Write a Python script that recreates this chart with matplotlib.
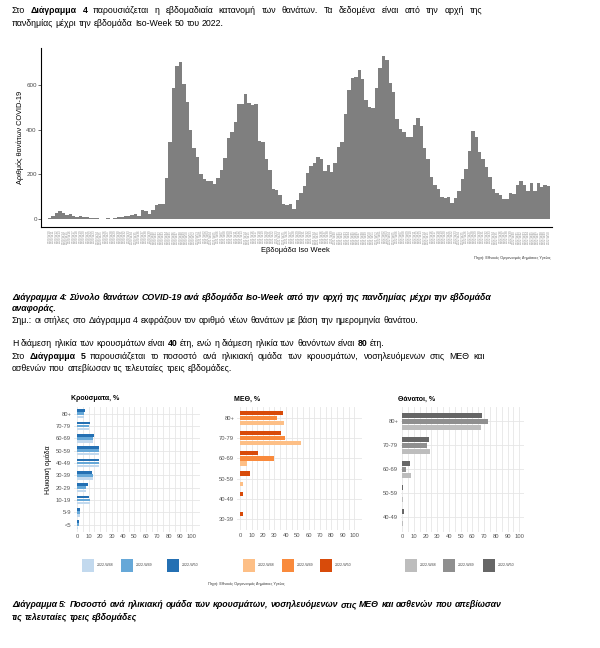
import numpy as np
import matplotlib
matplotlib.use("Agg")
import matplotlib.pyplot as plt
from matplotlib.patches import Rectangle

plt.rcParams['font.family'] = ['Liberation Sans', 'DejaVu Sans']

W, H = 600, 648

# ---- Diagram 4: weekly COVID-19 deaths, 2020-W10 .. 2022-W50 ----
deaths = [3, 12, 27, 35, 25, 18, 22, 14, 7, 11, 8, 7, 4, 3, 5, 1, 1, 3, 1, 5,
          6, 6, 14, 12, 15, 22, 12, 38, 35, 22, 38, 60, 65, 65, 185, 345, 590, 685, 705, 605,
          525, 400, 320, 280, 200, 178, 170, 172, 158, 185, 218, 275, 362, 390, 435, 515, 515, 560, 520, 510,
          515, 348, 345, 268, 218, 135, 128, 105, 65, 62, 68, 45, 85,
          118, 148, 205, 239, 249, 276, 267, 216, 242, 211, 251, 325, 347, 470, 581, 634, 638, 667, 627, 533,
          503, 498, 589, 676, 732, 714, 609, 571, 450, 405, 390, 367, 367, 420, 455, 417, 319, 269, 186, 153,
          133, 100, 95, 100, 69, 95, 125, 181, 223, 303, 394, 367, 299, 269, 231, 186, 133, 118, 107, 91,
          91, 115, 110, 153, 171, 151, 125, 163, 125, 159, 144, 153, 148]
week_labels = ([f"2020-W{w:02d}" for w in range(10, 54)] +
               [f"2021-W{w:02d}" for w in range(1, 53)] +
               [f"2022-W{w:02d}" for w in range(1, 51)])

# ---- Diagram 5: share per age group, last three weeks ----
weeks = ["2022-W48", "2022-W49", "2022-W50"]

case_groups = ["80+", "70-79", "60-69", "50-59", "40-49", "30-39", "20-29", "10-19", "5-9", "<5"]
cases_w48 = [6, 10.5, 14, 19, 19, 13.5, 8, 11, 2.5, 1]
cases_w49 = [5.5, 10, 14, 19, 19, 14, 8, 11, 2.5, 1.2]
cases_w50 = [6.5, 11, 14.5, 18.7, 19, 13, 9, 10, 2, 1.2]

icu_groups = ["80+", "70-79", "60-69", "50-59", "40-49", "30-39"]
icu_w48 = [38.6, 53.2, 5.8, 2.3, 0, 0]
icu_w49 = [32, 39.5, 29.5, 0, 0, 0]
icu_w50 = [37.4, 35.4, 15.8, 8.8, 2, 2]

death_groups = ["80+", "70-79", "60-69", "50-59", "40-49"]
death_w48 = [67.1, 23.5, 7.4, 0.8, 0.6]
death_w49 = [73, 21.2, 3.7, 0, 0]
death_w50 = [68.3, 23, 6.8, 0.8, 1.4]

fig = plt.figure(figsize=(W / 100, H / 100), dpi=100)
renderer = fig.canvas.get_renderer()
TXT = 'Liberation Sans'


def px_axes(x0, y0, x1, y1):
    return fig.add_axes([x0 / W, 1 - y1 / H, (x1 - x0) / W, (y1 - y0) / H])


def width_of(s, size, wt='normal', st='normal'):
    t = fig.text(0, 0, s, fontsize=size, fontweight=wt, fontstyle=st, family=TXT)
    w = t.get_window_extent(renderer=renderer).width
    t.remove()
    return w


def text_line(x, y, runs, size, width=None):
    # words drawn one by one on a common baseline, so bold parts and justified lines line up
    words = []
    for s, weight, style in runs:
        for w in s.split():
            words.append((w, weight, style))
    base = y + 0.36 * size * 100 / 72
    objs = [fig.text(0, 1 - base / H, w, fontsize=size, fontweight=wt, fontstyle=st,
                     family=TXT, va='baseline', ha='left', color='black')
            for w, wt, st in words]
    widths = [t.get_window_extent(renderer=renderer).width for t in objs]
    space = width_of("n n", size) - width_of("nn", size)
    gap = space
    if width is not None and len(objs) > 1:
        gap = max(space, (width - sum(widths)) / (len(objs) - 1))
    cx = x
    for t, w in zip(objs, widths):
        t.set_x(cx / W)
        cx += w + gap


N, B, I = 'normal', 'bold', 'italic'
fs = 6.3

text_line(12, 10, [("Στο", N, N), ("Διάγραμμα 4", B, N),
                   ("παρουσιάζεται η εβδομαδιαία κατανομή των θανάτων.  Τα δεδομένα είναι από την αρχή της", N, N)],
          fs, width=470)
text_line(12, 22.5, [("πανδημίας μέχρι την εβδομάδα Iso-Week 50 του 2022.", N, N)], fs)

# ---- top bar chart ----
ax = px_axes(41, 48, 552, 227)
x = np.arange(len(deaths))
ax.bar(x, deaths, width=1.0, color='#7f7f7f', linewidth=0)
ax.set_xlim(-2.5, len(deaths))
ax.set_ylim(-37, 768)
ax.set_yticks([0, 200, 400, 600])
ax.tick_params(axis='y', labelsize=4.5, labelcolor='#4d4d4d', length=2, width=0.5, color='#333333', pad=1)
ax.set_xticks(x)
ax.set_xticklabels(week_labels, rotation=90, fontsize=2.2, color='#8c8c8c')
ax.tick_params(axis='x', length=1, width=0.3, color='#555555', pad=1)
for s in ['top', 'right']:
    ax.spines[s].set_visible(False)
ax.spines['left'].set_linewidth(0.8)
ax.spines['bottom'].set_linewidth(0.8)
ax.set_ylabel("Αριθμός θανάτων COVID-19", fontsize=5.3, labelpad=2)
fig.text(295 / W, 1 - 250 / H, "Εβδομάδα Iso Week", fontsize=5.4, ha='center', va='center')
fig.text(551 / W, 1 - 258 / H, "Πηγή: Εθνικός Οργανισμός Δημόσιας Υγείας", fontsize=2.8,
         ha='right', va='center', color='#333333')

# ---- captions / paragraph ----
text_line(12, 297, [("Διάγραμμα 4: Σύνολο θανάτων COVID-19 ανά εβδομάδα Iso-Week από την αρχή της πανδημίας μέχρι την εβδομάδα", B, I)],
          fs, width=471)
text_line(12, 308, [("αναφοράς.", B, I)], fs)
text_line(12, 320, [("Σημ.: οι στήλες στο Διάγραμμα 4 εκφράζουν τον αριθμό νέων θανάτων με βάση την ημερομηνία θανάτου.", N, N)], fs)
text_line(12, 343, [("Η διάμεση ηλικία των κρουσμάτων είναι", N, N), ("40", B, N),
                    ("έτη, ενώ η διάμεση ηλικία των θανόντων είναι", N, N), ("80", B, N), ("έτη.", N, N)], fs)
text_line(12, 355.5, [("Στο", N, N), ("Διάγραμμα 5", B, N),
                      ("παρουσιάζεται το ποσοστό ανά ηλικιακή ομάδα των κρουσμάτων, νοσηλευόμενων στις ΜΕΘ και", N, N)],
          fs, width=473)
text_line(12, 367.5, [("ασθενών που απεβίωσαν τις τελευταίες τρεις εβδομάδες.", N, N)], fs)


# ---- three small panels ----
def panel(box, title, groups, v48, v49, v50, colors, xlim, pad, ylabel=None, legend_x=()):
    a = px_axes(*box)
    n = len(groups)
    y = np.arange(n)[::-1]
    a.barh(y - 0.25, v48, height=0.21, color=colors[0], linewidth=0, zorder=3)
    a.barh(y, v49, height=0.21, color=colors[1], linewidth=0, zorder=3)
    a.barh(y + 0.25, v50, height=0.21, color=colors[2], linewidth=0, zorder=3)
    a.set_xlim(*xlim)
    a.set_ylim(-pad, n - 1 + pad)
    a.set_yticks(y)
    a.set_yticklabels(groups)
    a.set_xticks(range(0, 101, 10))
    a.set_xticks(range(5, 100, 10), minor=True)
    a.grid(True, which='both', color='#e6e6e6', linewidth=0.6, zorder=0)
    a.tick_params(which='both', length=0, labelsize=4.2, labelcolor='#555555', pad=2)
    for s in a.spines.values():
        s.set_visible(False)
    if ylabel:
        a.set_ylabel(ylabel, fontsize=5, labelpad=3)
    fig.text((box[0] - 3) / W, 1 - 399 / H, title, fontsize=5, fontweight='bold', ha='left', va='center')
    for lx, c, lab in zip(legend_x, colors, weeks):
        fig.add_artist(Rectangle((lx / W, 1 - 572 / H), 11.5 / W, 13 / H, transform=fig.transFigure,
                                 facecolor=c, edgecolor='none'))
        fig.text((lx + 15) / W, 1 - 565.5 / H, lab, fontsize=2.6, color='#444444', ha='left', va='center')


panel((74, 407, 200, 531.5), "Κρούσματα, %", case_groups, cases_w48, cases_w49, cases_w50,
      ['#c2d9ee', '#66a8d8', '#2470b3'], (-2.9, 107.3), 0.55, ylabel="Ηλικιακή ομάδα",
      legend_x=(82, 121, 167))
panel((237, 407, 362, 530), "ΜΕΘ, %", icu_groups, icu_w48, icu_w49, icu_w50,
      ['#fdbf86', '#f98a3c', '#d84b0a'], (-2.9, 106.8), 0.55,
      legend_x=(243, 282, 320))
panel((401, 407, 524, 531.5), "Θάνατοι, %", death_groups, death_w48, death_w49, death_w50,
      ['#bdbdbd', '#8f8f8f', '#666666'], (-0.9, 104), 0.6,
      legend_x=(405, 443, 483))

fig.text(246 / W, 1 - 584 / H, "Πηγή: Εθνικός Οργανισμός Δημόσιας Υγείας", fontsize=2.8,
         ha='center', va='center', color='#333333')

text_line(12, 604, [("Διάγραμμα 5: Ποσοστό ανά ηλικιακή ομάδα των κρουσμάτων, νοσηλευόμενων στις ΜΕΘ και ασθενών που απεβίωσαν", B, I)],
          fs, width=470)
text_line(12, 616.5, [("τις τελευταίες τρεις εβδομάδες", B, I)], fs)

fig.savefig("out.png", dpi=100)
